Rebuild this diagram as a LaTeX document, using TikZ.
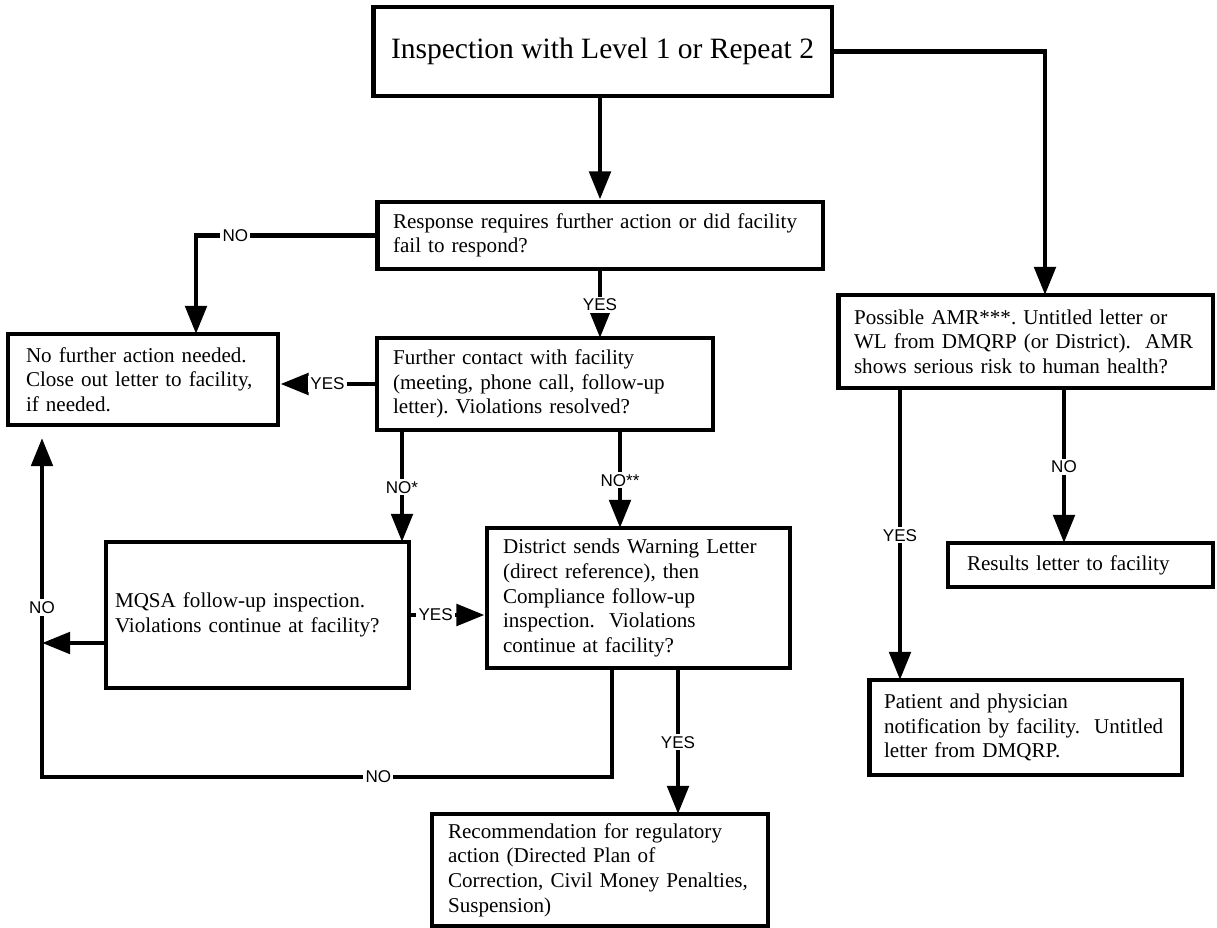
\documentclass[tikz,border=0pt]{standalone}
\usepackage{fontspec}
\setmainfont{Liberation Serif}
\setsansfont{Liberation Sans}
\usetikzlibrary{positioning}
\usetikzlibrary{arrows.meta}
\tikzset{
    box/.style = {rectangle, line width=2.8pt, draw=black, align=left, inner xsep=0.32cm, font=\fontsize{12}{14}\selectfont},
    lbl/.style = {fill=white, inner sep=1.2pt, font=\sffamily\fontsize{9.7}{11}\selectfont},
    edge/.style = {-{Triangle[length=16pt,width=12pt]}, line width=2.8pt},
}

\begin{document}
\frenchspacing
\begin{tikzpicture}[x=0.02cm,y=-0.02cm]
\path[use as bounding box] (0,0) rectangle (1217,928);
%
\node[box,minimum width=9.18cm,minimum height=1.78cm,font=\fontsize{16.8}{20}\selectfont] at (602.5,51.5) (top) {Inspection with Level 1 or Repeat 2};
\node[box,minimum height=1.34cm,text width=8.28cm] at (600,235.5) (resp) {Response requires further action or did facility\\fail to respond?};
\node[box,minimum height=1.82cm,inner xsep=0.36cm,text width=4.68cm] at (143,379.5) (nofurther) {No further action needed.\\Close out letter to facility,\\if needed.};
\node[box,minimum height=1.84cm,text width=6.08cm] at (545,384) (further) {Further contact with facility\\(meeting, phone call, follow-up\\letter). Violations resolved?};
\node[box,minimum height=2.92cm,inner xsep=0.18cm,text width=5.70cm] at (257.5,615) (mqsa) {MQSA follow-up inspection.\\Violations continue at facility?};
\node[box,minimum height=2.80cm,text width=5.42cm] at (638.5,598) (district) {District sends Warning Letter\\(direct reference), then\\Compliance follow-up\\inspection.\ \ Violations\\continue at facility?};
\node[box,minimum height=2.24cm,text width=6.08cm] at (600,870) (recom) {Recommendation for regulatory\\action (Directed Plan of\\Correction, Civil Money Penalties,\\Suspension)};
\node[box,minimum height=1.86cm,text width=6.86cm] at (1025.5,341.5) (amr) {Possible AMR***. Untitled letter or\\WL from DMQRP (or District).\ \ AMR\\shows serious risk to human health?};
\node[box,minimum height=0.88cm,inner xsep=0.38cm,text width=4.54cm] at (1080.5,565) (results) {Results letter to facility};
\node[box,minimum height=1.90cm,inner xsep=0.3cm,text width=5.66cm] at (1025.5,727.5) (patient) {Patient and physician\\\mbox{notification by facility.\ \ Untitled}\\letter from DMQRP.};
%
\coordinate (amrin) at (1045,295);
\coordinate (nfin) at (196,334);
\coordinate (furin) at (600,338);
\coordinate (mqin) at (402,542);
\coordinate (distin) at (620,528);
\coordinate (leftrow) at (42,643);
\coordinate (loopr) at (612,777);
\coordinate (loopl) at (42,777);
\coordinate (nfup) at (42,438);
\coordinate (recin) at (678,814);
\coordinate (patin) at (900,680);
\coordinate (resin) at (1064,543);
%
\draw[edge] (top.south -| resp.north) -- (resp.north);
\draw[edge] (top.east) -| (amrin);
\draw[edge] (resp.west) -| node[lbl,pos=0.39] {NO} (nfin);
\draw[edge] (resp.south) -- node[lbl] {YES} (furin);
\draw[edge] (further.west) -- node[lbl] {YES} (further.west -| nofurther.east);
\draw[edge] (further.south -| mqin) -- node[lbl] {NO*} (mqin);
\draw[edge] (further.south -| distin) -- node[lbl] {NO**} (distin);
\draw[edge] (mqsa.east) -- node[lbl,pos=0.33] {YES} (mqsa.east -| district.west);
\draw[edge] (mqsa.west |- leftrow) -- (leftrow);
\draw[edge] (district.south -| loopr) -- (loopr) -- node[lbl,pos=0.41] {NO} (loopl) -- node[lbl] {NO} (nfup);
\draw[edge] (district.south -| recin) -- node[lbl] {YES} (recin);
\draw[edge] (amr.south -| patin) -- node[lbl] {YES} (patin);
\draw[edge] (amr.south -| resin) -- node[lbl] {NO} (resin);

\end{tikzpicture}
\end{document}
